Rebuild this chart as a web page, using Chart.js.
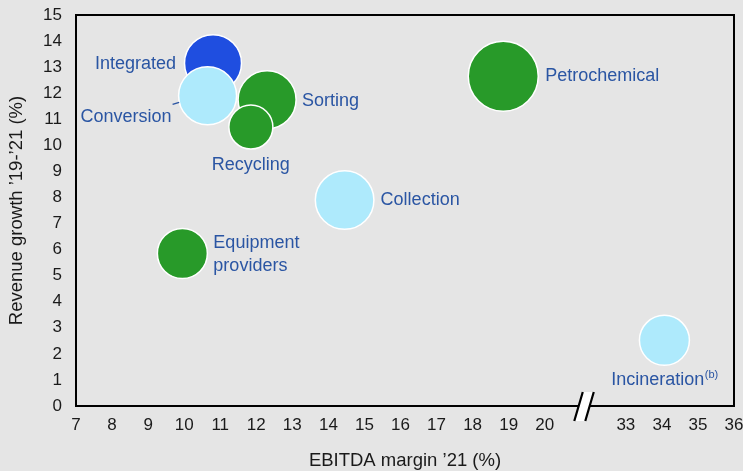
<!DOCTYPE html>
<html>
<head>
<meta charset="utf-8">
<script src="https://cdn.jsdelivr.net/npm/chart.js@4/dist/chart.umd.min.js"></script>
<style>
  html, body { margin: 0; padding: 0; background: #e5e5e5; }
  #wrap { width: 743px; height: 471px; }
</style>
</head>
<body>
<div id="wrap"><canvas id="chart" width="743" height="471"></canvas></div>
<script>
// Value-chain segments: EBITDA margin '21 (%) vs revenue growth '19-'21 (%)
const segments = ['Integrated', 'Conversion', 'Sorting', 'Recycling', 'Petrochemical', 'Collection', 'Equipment providers', 'Incineration'];
const ebitdaMargin = [10.8, 10.65, 12.3, 11.85, 18.85, 14.45, 9.95, 34.07];
const revenueGrowth = [13.15, 11.9, 11.75, 10.7, 12.65, 7.9, 5.85, 2.52];
const bubbleSize = [28.5, 29, 29, 22, 35, 29.3, 25, 25];
const segmentColors = ['#1f4ee0', '#aeeafc', '#289a29', '#289a29', '#289a29', '#aeeafc', '#289a29', '#aeeafc'];

const yTicks = [0, 1, 2, 3, 4, 5, 6, 7, 8, 9, 10, 11, 12, 13, 14, 15];
const xTicksLow = [7, 8, 9, 10, 11, 12, 13, 14, 15, 16, 17, 18, 19, 20];
const xTicksHigh = [33, 34, 35, 36];

// Broken x axis: the 20..33 stretch is compressed into a short gap
const BREAK_LOW = 20, BREAK_HIGH = 33, BREAK_GAP = 2.25;
const toAxis = v => (v >= BREAK_HIGH ? v - (BREAK_HIGH - BREAK_LOW) + BREAK_GAP : v);
const fromAxis = v => (v > BREAK_LOW + BREAK_GAP / 2 ? v + (BREAK_HIGH - BREAK_LOW) - BREAK_GAP : v);

const LABEL_COLOR = '#2a55a3';
const TICK_COLOR = '#1a1a1a';
const FONT = "'Liberation Sans', Arial, Helvetica, sans-serif";

// where each segment name sits relative to its bubble
const labelPlacement = [
  { align: 'right', dx: -37, dy: 1 },
  { align: 'right', dx: -36, dy: 21, leader: [-35, 8.6, -28.4, 6.6] },
  { align: 'left', dx: 35, dy: 1 },
  { align: 'center', dx: 0, dy: 38 },
  { align: 'left', dx: 42, dy: 0 },
  { align: 'left', dx: 36, dy: 0 },
  { align: 'left', dx: 31, dy: -10, lines: ['Equipment', 'providers'], lineGap: 23 },
  { align: 'center', dx: 0, dy: 40, sup: '(b)' }
];

const framePlugin = {
  id: 'frame',
  beforeDatasetsDraw(chart) {
    const { ctx, chartArea: a } = chart;
    ctx.save();
    ctx.strokeStyle = '#000';
    ctx.lineWidth = 2;
    ctx.strokeRect(a.left, a.top, a.right - a.left, a.bottom - a.top);
    // axis break marker
    const xs = chart.scales.x;
    const cx = xs.getPixelForValue(BREAK_LOW + BREAK_GAP / 2) - 1;
    const y = a.bottom;
    ctx.beginPath();
    ctx.moveTo(cx - 10, y + 15);
    ctx.lineTo(cx - 1.5, y - 14);
    ctx.lineTo(cx + 9.5, y - 14);
    ctx.lineTo(cx + 1, y + 15);
    ctx.closePath();
    ctx.fillStyle = '#ffffff';
    ctx.fill();
    ctx.lineWidth = 2.2;
    ctx.beginPath();
    ctx.moveTo(cx - 10, y + 15); ctx.lineTo(cx - 1.5, y - 14);
    ctx.moveTo(cx + 1, y + 15); ctx.lineTo(cx + 9.5, y - 14);
    ctx.stroke();
    ctx.restore();
  }
};

const labelPlugin = {
  id: 'segmentLabels',
  afterDatasetsDraw(chart) {
    const { ctx } = chart;
    const pts = chart.getDatasetMeta(0).data;
    ctx.save();
    ctx.fillStyle = LABEL_COLOR;
    ctx.strokeStyle = LABEL_COLOR;
    ctx.textBaseline = 'middle';
    pts.forEach((pt, i) => {
      const p = labelPlacement[i];
      const lines = p.lines || [segments[i]];
      ctx.font = '18px ' + FONT;
      let x = pt.x + p.dx;
      let y = pt.y + p.dy;
      if (p.sup) {
        const mainW = ctx.measureText(lines[0]).width;
        ctx.font = '11px ' + FONT;
        const supW = ctx.measureText(p.sup).width;
        const start = x - (mainW + supW) / 2;
        ctx.font = '18px ' + FONT;
        ctx.textAlign = 'left';
        ctx.fillText(lines[0], start, y);
        ctx.font = '11px ' + FONT;
        ctx.fillText(p.sup, start + mainW + 0.5, y - 5);
      } else {
        ctx.textAlign = p.align;
        lines.forEach((t, k) => ctx.fillText(t, x, y + k * (p.lineGap || 0)));
      }
      if (p.leader) {
        ctx.lineWidth = 1.5;
        ctx.beginPath();
        ctx.moveTo(pt.x + p.leader[0], pt.y + p.leader[1]);
        ctx.lineTo(pt.x + p.leader[2], pt.y + p.leader[3]);
        ctx.stroke();
      }
    });
    ctx.restore();
  }
};

new Chart(document.getElementById('chart'), {
  type: 'bubble',
  data: {
    datasets: [{
      label: 'Segments',
      data: segments.map((s, i) => ({ x: toAxis(ebitdaMargin[i]), y: revenueGrowth[i], r: bubbleSize[i] })),
      backgroundColor: segmentColors,
      borderColor: '#ffffff',
      borderWidth: 1.5,
      hoverRadius: 0
    }]
  },
  options: {
    responsive: false,
    animation: false,
    events: [],
    clip: false,
    layout: { autoPadding: false, padding: { top: 15, right: 9, left: 0, bottom: 0 } },
    plugins: { legend: { display: false }, tooltip: { enabled: false } },
    scales: {
      x: {
        type: 'linear',
        min: 7,
        max: toAxis(36),
        afterBuildTicks: s => { s.ticks = xTicksLow.concat(xTicksHigh).map(v => ({ value: toAxis(v) })); },
        afterFit: s => { s.height = 65; s.paddingLeft = 0; s.paddingRight = 0; },
        grid: { display: false, drawTicks: false },
        border: { display: false },
        ticks: {
          autoSkip: false, maxRotation: 0, padding: 9,
          color: TICK_COLOR, font: { family: FONT, size: 17 },
          callback: v => String(Math.round(fromAxis(v)))
        },
        title: {
          display: true, text: 'EBITDA margin ’21 (%)', color: TICK_COLOR,
          font: { family: FONT, size: 18.5, lineHeight: 1.1 },
          padding: { top: 0, bottom: 0 }
        }
      },
      y: {
        type: 'linear',
        min: 0,
        max: 15,
        afterBuildTicks: s => { s.ticks = yTicks.map(v => ({ value: v })); },
        afterFit: s => { s.width = 76; s.paddingTop = 0; s.paddingBottom = 0; },
        grid: { display: false, drawTicks: false },
        border: { display: false },
        ticks: {
          padding: 14, color: TICK_COLOR, font: { family: FONT, size: 17 }
        },
        title: {
          display: true, text: 'Revenue growth ’19-’21 (%)', color: TICK_COLOR,
          font: { family: FONT, size: 18.5, lineHeight: 1.1 },
          padding: { top: 6.5, bottom: 0 }
        }
      }
    }
  },
  plugins: [framePlugin, labelPlugin]
});
</script>
</body>
</html>
